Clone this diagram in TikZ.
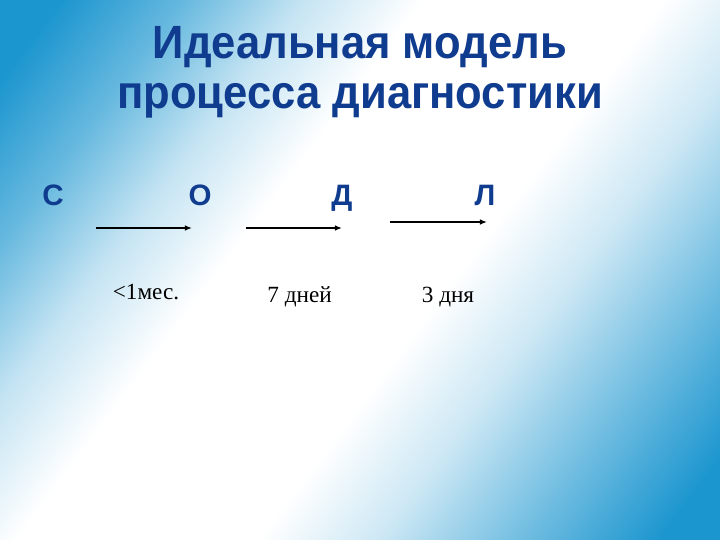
\documentclass[tikz,border=0pt]{standalone}
\usepackage{fontspec}
\setmainfont{Liberation Serif}
\newfontfamily\headfont{Liberation Sans}
\usetikzlibrary{arrows.meta}
\definecolor{bgblue}{HTML}{1C96CF}
\definecolor{headblue}{HTML}{103C8F}
% the corners of the slide fall at about 19bp and 81bp of the shading
\pgfdeclarehorizontalshading{slidebg}{100bp}{color(0bp)=(bgblue); color(18.75bp)=(bgblue); color(26.25bp)=(bgblue!68!white); color(33.75bp)=(bgblue!26!white); color(41.25bp)=(white); color(56.25bp)=(white); color(63.75bp)=(bgblue!22!white); color(72.5bp)=(bgblue!62!white); color(81.25bp)=(bgblue); color(100bp)=(bgblue)}
\tikzset{
    head/.style={font=\headfont\bfseries\fontsize{31}{38}\selectfont, text=headblue, anchor=base},
    stage/.style={font=\headfont\bfseries\fontsize{21}{25}\selectfont, text=headblue, anchor=base},
    term/.style={font=\fontsize{16.5}{20}\selectfont, anchor=base},
    link/.style={-{Latex[length=5pt,width=4pt]}, line width=1pt}
}
\begin{document}
\begin{tikzpicture}
        \shade[shading=slidebg, shading angle=-37] (0,0) rectangle (18,13.5);
        \useasboundingbox (0,0) rectangle (18,13.5);
        % title
        \node[head] (title1) at (9.0,12.025) {\scalebox{1}[1.07]{Идеальная модель}};
        \node[head] (title2) at (9.0,10.775) {\scalebox{1}[1.07]{процесса диагностики}};
        % stages
        \node[stage] (s) at (1.325,8.35) {С};
        \node[stage] (o) at (5.0,8.35) {О};
        \node[stage] (d) at (8.55,8.35) {Д};
        \node[stage] (l) at (12.125,8.35) {Л};
        % arrows between the stages
        \coordinate (a1) at (2.4,7.8);
        \coordinate (b1) at (4.8,7.8);
        \coordinate (a2) at (6.15,7.8);
        \coordinate (b2) at (8.55,7.8);
        \coordinate (a3) at (9.75,7.95);
        \coordinate (b3) at (12.175,7.95);
        \draw[link] (a1) -- (b1);
        \draw[link] (a2) -- (b2);
        \draw[link] (a3) -- (b3);
        % durations
        \node[term] (t1) at (3.65,6.0) {<1мес.};
        \node[term] (t2) at (7.49,5.925) {7 дней};
        \node[term] (t3) at (11.2,5.925) {3 дня};
    \end{tikzpicture}
\end{document}
